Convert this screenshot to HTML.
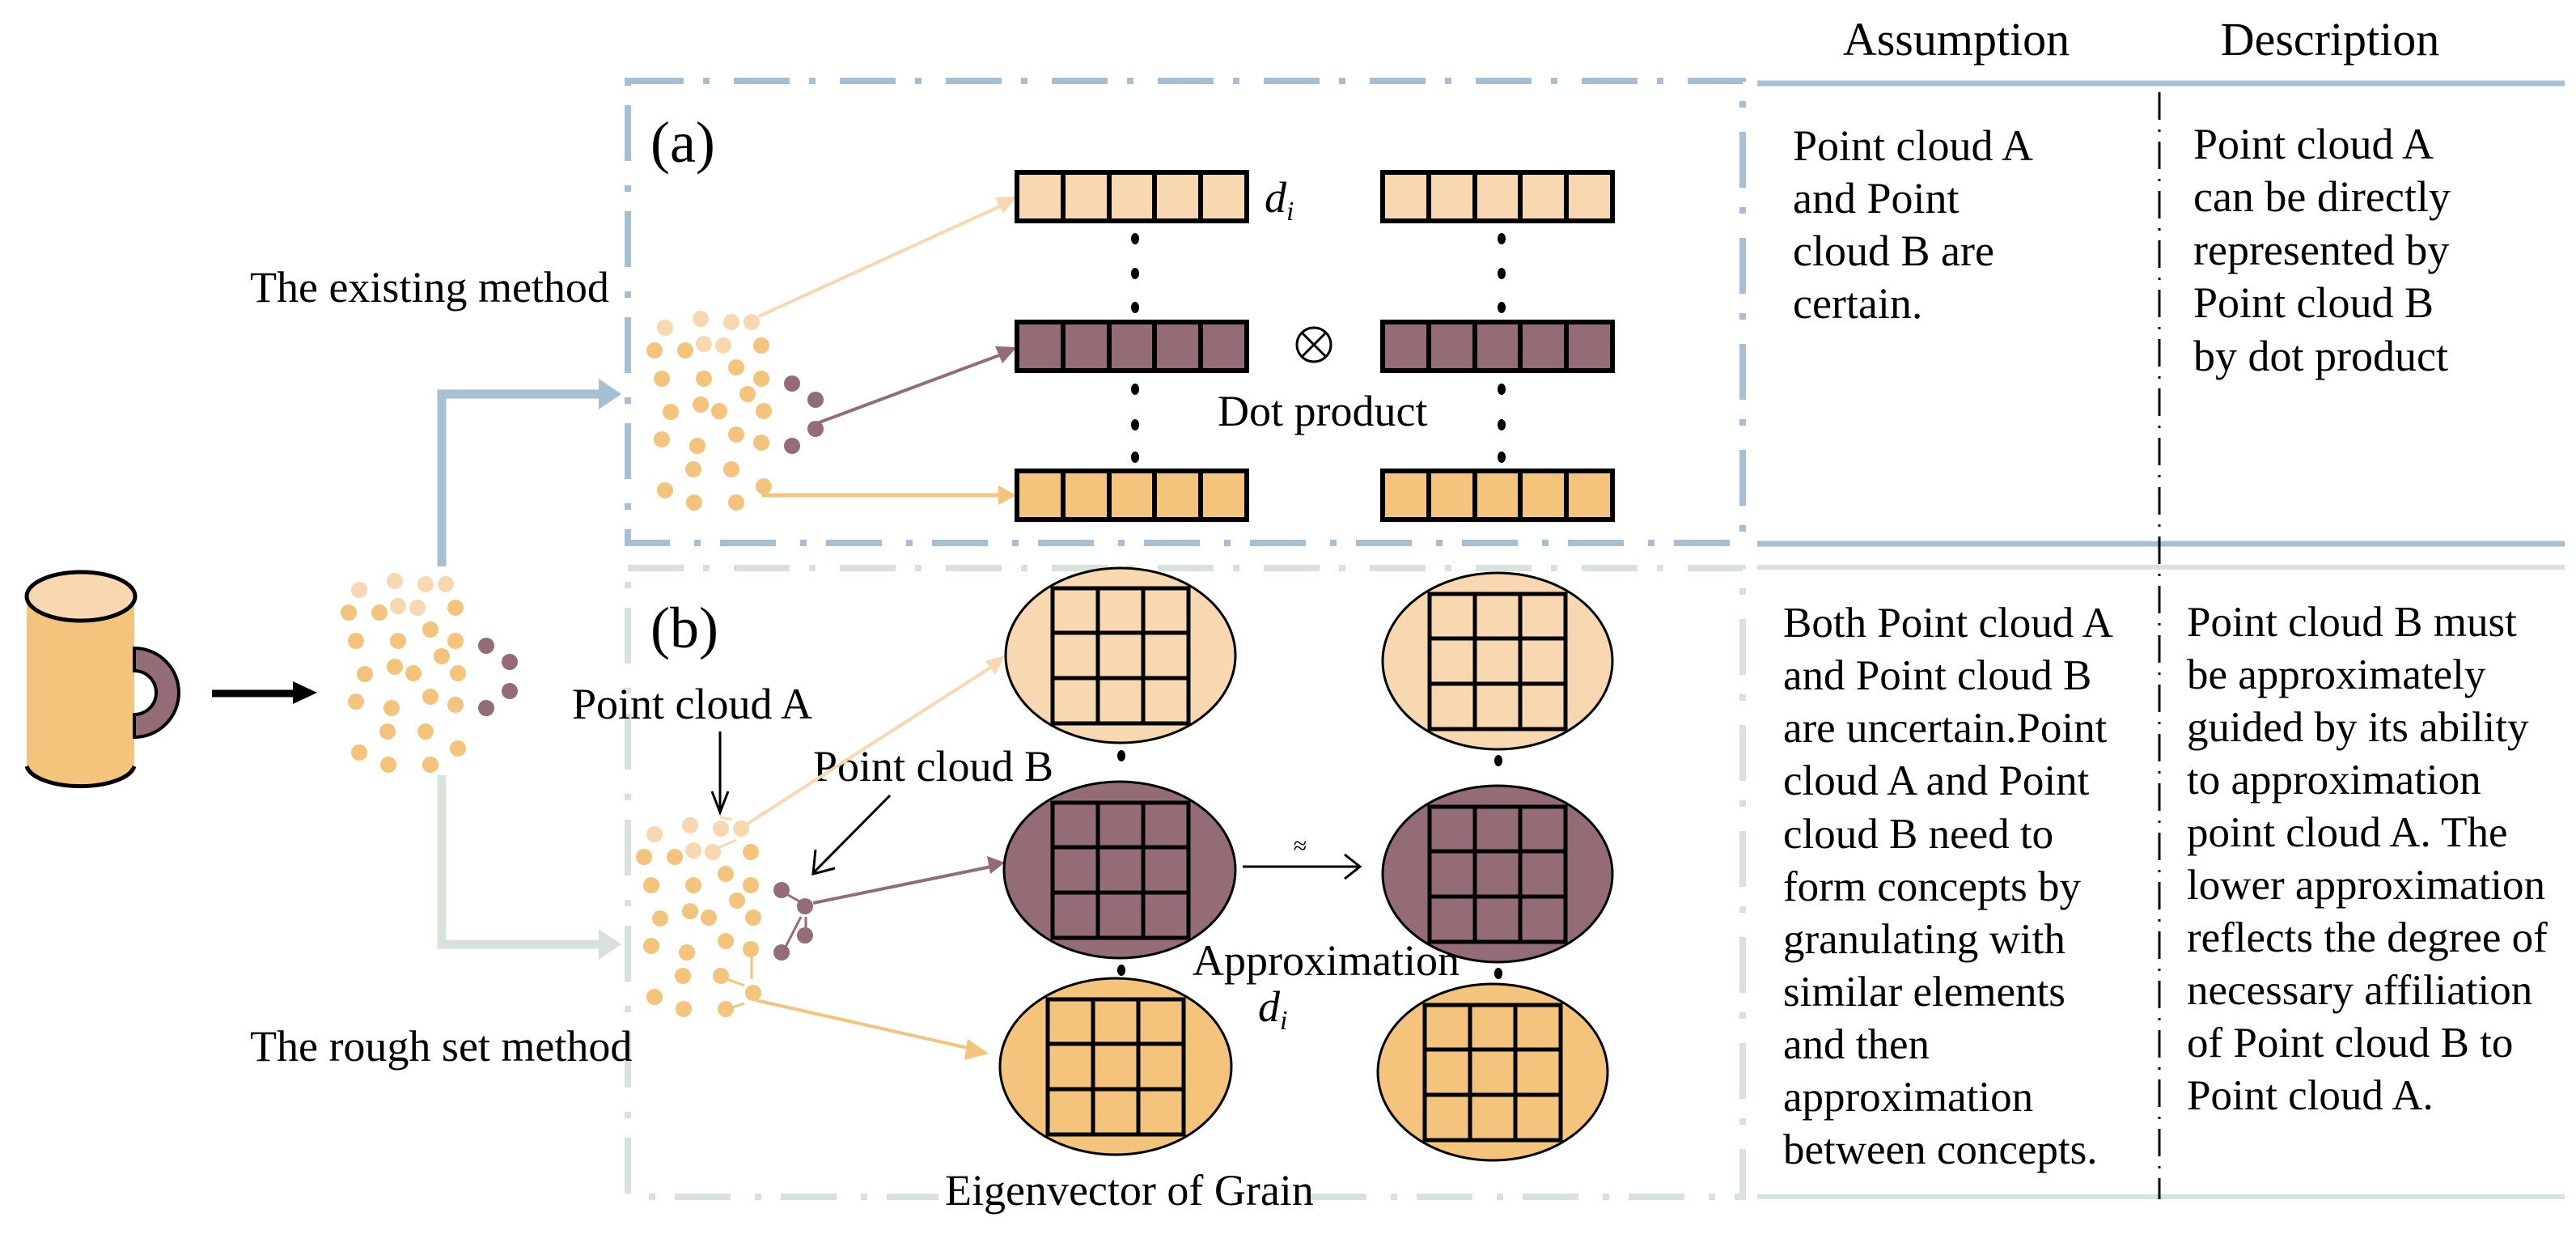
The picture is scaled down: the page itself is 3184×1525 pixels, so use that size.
<!DOCTYPE html>
<html><head><meta charset="utf-8"><style>
html,body{margin:0;padding:0;background:#fff;}
svg{display:block;}
svg text{font-family:"Liberation Serif","Times New Roman",serif;}
</style></head><body>
<svg width="3184" height="1525" viewBox="0 0 3184 1525" xmlns="http://www.w3.org/2000/svg" font-family="Liberation Serif, serif">
<defs>
<g id="cloud">
<circle cx="822" cy="405" r="10" fill="#F7D8B0"/><circle cx="866" cy="394" r="10" fill="#F7D8B0"/><circle cx="904" cy="398" r="10" fill="#F7D8B0"/><circle cx="929" cy="398" r="10" fill="#F7D8B0"/><circle cx="870" cy="425" r="10" fill="#F7D8B0"/><circle cx="894" cy="427" r="10" fill="#F7D8B0"/>
<g fill="#F5C47C">
<circle cx="809" cy="433" r="10"/><circle cx="847" cy="433" r="10"/><circle cx="941" cy="427" r="10"/><circle cx="910" cy="454" r="10"/><circle cx="818" cy="468" r="10"/><circle cx="870" cy="468" r="10"/><circle cx="941" cy="468" r="10"/><circle cx="924" cy="487" r="10"/><circle cx="829" cy="509" r="10"/><circle cx="866" cy="500" r="10"/><circle cx="889" cy="508" r="10"/><circle cx="944" cy="508" r="10"/><circle cx="818" cy="543" r="10"/><circle cx="862" cy="551" r="10"/><circle cx="910" cy="537" r="10"/><circle cx="941" cy="547" r="10"/><circle cx="857" cy="580" r="10"/><circle cx="904" cy="580" r="10"/><circle cx="944" cy="601" r="10"/><circle cx="822" cy="606" r="10"/><circle cx="858" cy="621" r="10"/><circle cx="910" cy="621" r="10"/>
</g>
<g fill="#946C76"><circle cx="979" cy="474" r="10"/><circle cx="1008" cy="494" r="10"/><circle cx="1008" cy="530" r="10"/><circle cx="979" cy="551" r="10"/></g>
</g>
<g id="grid" fill="none" stroke="#000" stroke-width="5">
<rect x="-84" y="-83" width="168" height="167"/>
<line x1="-28" y1="-83" x2="-28" y2="84"/><line x1="28" y1="-83" x2="28" y2="84"/>
<line x1="-84" y1="-28" x2="84" y2="-28"/><line x1="-84" y1="28" x2="84" y2="28"/>
</g>
<g id="bar" stroke="#000" stroke-width="6">
<rect x="0" y="0" width="284" height="60"/>
<line x1="57" y1="0" x2="57" y2="60"/><line x1="114" y1="0" x2="114" y2="60"/><line x1="170" y1="0" x2="170" y2="60"/><line x1="227" y1="0" x2="227" y2="60"/>
</g>
</defs>

<!-- mug -->
<path d="M33 737 V947 A67 28 0 0 0 166 947 V737 Z" fill="#F5C47C"/>
<path d="M33 947 A67 28 0 0 0 166 947" fill="none" stroke="#000" stroke-width="5"/>
<path d="M166 801 A55 55 0 0 1 166 911 V883 A27 27 0 0 0 166 829 Z" fill="#946C76" stroke="#000" stroke-width="4"/>
<ellipse cx="100" cy="737" rx="67" ry="30" fill="#F7D8B0" stroke="#000" stroke-width="5"/>
<line x1="262" y1="857" x2="365" y2="857" stroke="#000" stroke-width="9"/>
<polygon points="362,842 392,856 362,870" fill="#000"/>

<use href="#cloud" transform="translate(-378,324)"/>

<polyline points="546,700 546,487 742,487" fill="none" stroke="#A7BFD2" stroke-width="11"/>
<polygon points="740,468 768,487 740,506" fill="#A7BFD2"/>
<polyline points="546,958 546,1167 742,1167" fill="none" stroke="#D8E1DB" stroke-width="11"/>
<polygon points="740,1148 768,1167 740,1186" fill="#D8E1DB"/>

<rect x="776" y="100" width="1378" height="571" fill="none" stroke="#A7BFD2" stroke-width="8" stroke-dasharray="69 24 8 30"/>
<rect x="776" y="702" width="1378" height="777" fill="none" stroke="#D8E1DB" stroke-width="8" stroke-dasharray="69 24 8 30"/>

<line x1="2172" y1="103" x2="3170" y2="103" stroke="#A7BFD2" stroke-width="7"/>
<line x1="2172" y1="672" x2="3170" y2="672" stroke="#A7BFD2" stroke-width="7"/>
<line x1="2172" y1="701" x2="3170" y2="701" stroke="#D8E1DB" stroke-width="6"/>
<line x1="2172" y1="1479" x2="3170" y2="1479" stroke="#D8E1DB" stroke-width="6"/>
<line x1="2669" y1="114" x2="2669" y2="1482" stroke="#000" stroke-width="3" stroke-dasharray="34 12 3 12"/>

<g font-family="Liberation Serif, serif" fill="#000">
<text x="2418" y="68" font-size="58" text-anchor="middle">Assumption</text>
<text x="2880" y="68" font-size="58" text-anchor="middle">Description</text>

<g font-size="54">
<text x="2216" y="198">Point cloud A</text>
<text x="2216" y="263">and Point</text>
<text x="2216" y="328">cloud B are</text>
<text x="2216" y="393">certain.</text>
<text x="2711" y="196">Point cloud A</text>
<text x="2711" y="261">can be directly</text>
<text x="2711" y="327">represented by</text>
<text x="2711" y="392">Point cloud B</text>
<text x="2711" y="458">by dot product</text>
</g>
<g font-size="53">
<text x="2204" y="787">Both Point cloud A</text>
<text x="2204" y="852">and Point cloud B</text>
<text x="2204" y="917">are uncertain.Point</text>
<text x="2204" y="982">cloud A and Point</text>
<text x="2204" y="1048">cloud B need to</text>
<text x="2204" y="1113">form concepts by</text>
<text x="2204" y="1178">granulating with</text>
<text x="2204" y="1243">similar elements</text>
<text x="2204" y="1308">and then</text>
<text x="2204" y="1373">approximation</text>
<text x="2204" y="1438">between concepts.</text>
<text x="2703" y="786">Point cloud B must</text>
<text x="2703" y="851">be approximately</text>
<text x="2703" y="916">guided by its ability</text>
<text x="2703" y="981">to approximation</text>
<text x="2703" y="1046">point cloud A.  The</text>
<text x="2703" y="1111">lower approximation</text>
<text x="2703" y="1176">reflects the degree of</text>
<text x="2703" y="1241">necessary affiliation</text>
<text x="2703" y="1306">of Point cloud B to</text>
<text x="2703" y="1371">Point cloud A.</text>
</g>

<text x="804" y="200" font-size="72">(a)</text>
<text x="309" y="373" font-size="54">The existing method</text>
</g>

<use href="#cloud"/>
<line x1="938" y1="391" x2="1238" y2="254" stroke="#F7D8B0" stroke-width="4"/>
<polygon points="1257,243 1230,244 1240,264" fill="#F7D8B0"/>
<line x1="1010" y1="523" x2="1238" y2="438" stroke="#946C76" stroke-width="4"/>
<polygon points="1257,429 1230,428 1239,449" fill="#946C76"/>
<polyline points="944,604 944,612 1236,612" fill="none" stroke="#F5C47C" stroke-width="5"/>
<polygon points="1234,600 1256,612 1234,624" fill="#F5C47C"/>
<use href="#bar" x="1257" y="213" fill="#F7D8B0"/>
<use href="#bar" x="1257" y="398" fill="#946C76"/>
<use href="#bar" x="1257" y="582" fill="#F5C47C"/>
<use href="#bar" x="1709" y="213" fill="#F7D8B0"/>
<use href="#bar" x="1709" y="398" fill="#946C76"/>
<use href="#bar" x="1709" y="582" fill="#F5C47C"/>
<g fill="#000">
<ellipse cx="1403" cy="295" rx="5" ry="7"/><ellipse cx="1403" cy="338" rx="5" ry="7"/><ellipse cx="1403" cy="380" rx="5" ry="7"/>
<ellipse cx="1403" cy="481" rx="5" ry="7"/><ellipse cx="1403" cy="525" rx="5" ry="7"/><ellipse cx="1403" cy="565" rx="5" ry="7"/>
<ellipse cx="1856" cy="295" rx="5" ry="7"/><ellipse cx="1856" cy="338" rx="5" ry="7"/><ellipse cx="1856" cy="380" rx="5" ry="7"/>
<ellipse cx="1856" cy="481" rx="5" ry="7"/><ellipse cx="1856" cy="525" rx="5" ry="7"/><ellipse cx="1856" cy="565" rx="5" ry="7"/>
</g>
<circle cx="1624" cy="426" r="21" fill="none" stroke="#000" stroke-width="3"/>
<line x1="1609" y1="411" x2="1639" y2="441" stroke="#000" stroke-width="3"/>
<line x1="1639" y1="411" x2="1609" y2="441" stroke="#000" stroke-width="3"/>

<g font-family="Liberation Serif, serif" fill="#000">
<text x="1563" y="262" font-size="54" font-style="italic">d<tspan font-size="34" dy="10">i</tspan></text>
<text x="1505" y="526" font-size="54">Dot product</text>
<text x="804" y="800" font-size="72">(b)</text>
<text x="309" y="1311" font-size="54">The rough set method</text>
<text x="707" y="888" font-size="54">Point cloud A</text>
<text x="1005" y="965" font-size="54">Point cloud B</text>
</g>
<line x1="890" y1="904" x2="890" y2="1002" stroke="#000" stroke-width="3"/>
<polyline points="880,978 890,1004 900,978" fill="none" stroke="#000" stroke-width="3"/>
<line x1="1100" y1="983" x2="1006" y2="1078" stroke="#000" stroke-width="3"/>
<polyline points="1008,1050 1005,1080 1032,1073" fill="none" stroke="#000" stroke-width="3"/>
<use href="#cloud" transform="translate(-13,626)"/>
<g stroke="#946C76" stroke-width="3" fill="#946C76">
<line x1="967" y1="1102" x2="990" y2="1115"/><line x1="967" y1="1178" x2="990" y2="1133"/><line x1="996" y1="1155" x2="996" y2="1133"/>
</g>
<g stroke="#F5C47C" stroke-width="3"><line x1="929" y1="1175" x2="929" y2="1210"/><line x1="891" y1="1207" x2="920" y2="1218"/><line x1="897" y1="1248" x2="920" y2="1240"/></g>
<g stroke="#F7D8B0" stroke-width="3"><line x1="881" y1="1051" x2="910" y2="1038"/><line x1="890" y1="1010" x2="905" y2="1013"/></g>
<line x1="916" y1="1023" x2="1232" y2="820" stroke="#F7D8B0" stroke-width="4"/>
<polygon points="1242,810 1218,817 1230,834" fill="#F7D8B0"/>
<line x1="1005" y1="1116" x2="1230" y2="1070" stroke="#946C76" stroke-width="4"/>
<polygon points="1242,1066 1220,1058 1224,1080" fill="#946C76"/>
<line x1="934" y1="1236" x2="1205" y2="1297" stroke="#F5C47C" stroke-width="4"/>
<polygon points="1222,1302 1196,1284 1192,1310" fill="#F5C47C"/>

<ellipse cx="1385" cy="810" rx="142" ry="108" fill="#F7D8B0" stroke="#000" stroke-width="3"/>
<use href="#grid" x="1385" y="810"/>
<ellipse cx="1384" cy="1075" rx="143" ry="109" fill="#946C76" stroke="#000" stroke-width="3"/>
<use href="#grid" x="1385" y="1075"/>
<ellipse cx="1379" cy="1318" rx="143" ry="109" fill="#F5C47C" stroke="#000" stroke-width="3"/>
<use href="#grid" x="1379" y="1318"/>
<ellipse cx="1851" cy="817" rx="142" ry="109" fill="#F7D8B0" stroke="#000" stroke-width="3"/>
<use href="#grid" x="1851" y="817"/>
<ellipse cx="1851" cy="1080" rx="142" ry="109" fill="#946C76" stroke="#000" stroke-width="3"/>
<use href="#grid" x="1851" y="1080"/>
<ellipse cx="1845" cy="1325" rx="142" ry="109" fill="#F5C47C" stroke="#000" stroke-width="3"/>
<use href="#grid" x="1845" y="1325"/>
<g fill="#000">
<ellipse cx="1386" cy="934" rx="5" ry="7"/><ellipse cx="1386" cy="1199" rx="5" ry="7"/>
<ellipse cx="1852" cy="940" rx="5" ry="7"/><ellipse cx="1852" cy="1203" rx="5" ry="7"/>
</g>
<line x1="1536" y1="1071" x2="1680" y2="1071" stroke="#000" stroke-width="3"/>
<polyline points="1662,1056 1681,1071 1662,1086" fill="none" stroke="#000" stroke-width="3"/>
<rect x="1160" y="1450" width="445" height="60" fill="#fff"/>
<g font-family="Liberation Serif, serif" fill="#000">
<text x="1607" y="1055" font-size="30" text-anchor="middle">≈</text>
<text x="1474" y="1205" font-size="54">Approximation</text>
<text x="1555" y="1262" font-size="54" font-style="italic">d<tspan font-size="34" dy="10">i</tspan></text>
<text x="1168" y="1489" font-size="54">Eigenvector of Grain</text>
</g>
</svg>
</body></html>
